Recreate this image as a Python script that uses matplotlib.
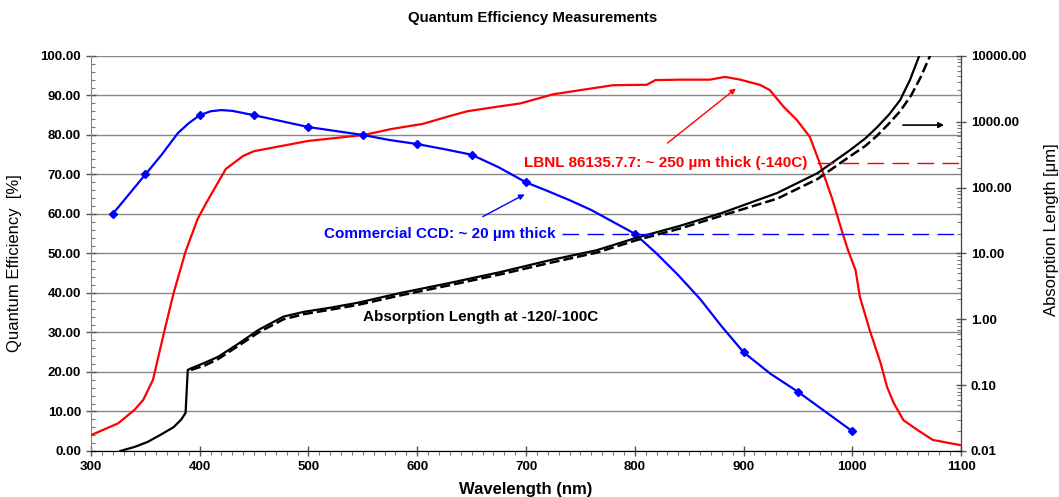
import matplotlib
matplotlib.use("Agg")
import matplotlib.pyplot as plt
from matplotlib.ticker import MultipleLocator, FormatStrFormatter, LogLocator, NullFormatter

plt.rcParams['font.family'] = ['Liberation Sans', 'DejaVu Sans']

# Commercial CCD (blue) - smooth curve and measured points
ccd_nm = [320, 335, 350, 365, 380, 390, 400, 410, 420, 430, 450, 475, 500, 525, 550,
          575, 600, 625, 650, 675, 700, 720, 740, 760, 780, 800, 820, 840, 860, 880,
          900, 925, 950, 975, 1000]
ccd_qe = [60, 65, 70, 75, 80.5, 83, 85, 86, 86.3, 86.1, 85, 83.5, 82, 81, 80,
          78.7, 77.7, 76.4, 75, 71.8, 68, 65.8, 63.5, 61, 58, 55, 50, 44.5, 38.5, 31.5,
          25, 19.5, 15, 10, 5]
ccd_pts_nm = [320, 350, 400, 450, 500, 550, 600, 650, 700, 800, 900, 950, 1000]
ccd_pts_qe = [60, 70, 85, 85, 82, 80, 77.7, 75, 68, 55, 25, 15, 5]

# LBNL thick CCD (red)
lbnl_nm = [300, 325, 340, 348, 357, 367, 376, 387, 398, 406, 424, 440, 450, 475, 500,
           551, 576, 605, 630, 646, 670, 695, 725, 756, 780, 811, 819, 842, 869, 883,
           897, 915, 924, 937, 949, 961, 970, 981, 991, 996, 1003, 1007, 1016, 1026,
           1032, 1038, 1047, 1060, 1074, 1099]
lbnl_qe = [4.0, 7, 10.4, 12.9, 18, 29.8, 40, 50.5, 58.7, 62.8, 71.4, 74.7, 75.9, 77.2, 78.5,
           80, 81.5, 82.8, 84.8, 86, 87, 88, 90.3, 91.6, 92.6, 92.7, 93.9, 94.0, 94.0, 94.7,
           94.0, 92.7, 91.4, 87.1, 83.8, 79.5, 72.9, 64.3, 55.2, 50.9, 45.8, 39, 30.6, 22.3,
           16.2, 12.2, 7.8, 5.3, 2.8, 1.5]

# Absorption length in silicon (um), -120C solid / -100C dashed
abs_nm = [327, 340, 352, 365, 376, 383, 387, 389, 392, 405, 417, 435, 454, 477, 496,
          520, 545, 584, 630, 676, 722, 765, 802, 842, 881, 931, 968, 998, 1012, 1023,
          1034, 1044, 1053, 1062]
abs_um = [0.01, 0.0115, 0.0137, 0.018, 0.023, 0.03, 0.038, 0.17, 0.18, 0.22, 0.27, 0.42,
          0.69, 1.1, 1.3, 1.5, 1.78, 2.5, 3.57, 5.2, 7.9, 11.2, 17.4, 26.4, 41.7, 83, 166,
          372, 560, 832, 1300, 2140, 4300, 10500]
abs2_nm = [392, 405, 417, 435, 454, 477, 496, 520, 545, 584, 630, 676, 722, 765, 802,
           842, 881, 931, 968, 998, 1012, 1023, 1034, 1044, 1054, 1063, 1072]
abs2_um = [0.17, 0.2, 0.25, 0.39, 0.63, 1.0, 1.2, 1.4, 1.65, 2.3, 3.3, 4.8, 7.2, 10.3, 16,
           24, 38, 68, 135, 300, 430, 620, 950, 1450, 2500, 4800, 10500]

ccd_thick = 20
lbnl_thick = 240

fig = plt.figure(figsize=(10.59, 4.97), dpi=100)
ax = fig.add_axes([0.0859, 0.0926, 0.8216, 0.7948])
ax2 = ax.twinx()

ax.plot(lbnl_nm, lbnl_qe, color='#ff0000', lw=1.6, zorder=3)
ax.plot(ccd_nm, ccd_qe, color='#0000ff', lw=1.6, zorder=3)
ax.plot(ccd_pts_nm, ccd_pts_qe, ls='none', marker='D', ms=4, color='#0000ff', zorder=4)

ax2.plot(abs_nm, abs_um, color='black', lw=1.6)
ax2.plot(abs2_nm, abs2_um, color='black', lw=1.8, dashes=(4, 1.6))
ax2.plot([733, 1100], [ccd_thick, ccd_thick], color='#0000ff', lw=1, dashes=(12, 6))
ax2.plot([968, 1100], [lbnl_thick, lbnl_thick], color='#ff0000', lw=1, dashes=(12, 6))

ax.set_xlim(300, 1100)
ax.set_ylim(0, 100)
ax2.set_yscale('log')
ax2.set_ylim(0.01, 10000)

ax.xaxis.set_major_locator(MultipleLocator(100))
ax.xaxis.set_minor_locator(MultipleLocator(10))
ax.yaxis.set_major_locator(MultipleLocator(10))
ax.yaxis.set_minor_locator(MultipleLocator(2))
ax.yaxis.set_major_formatter(FormatStrFormatter('%.2f'))
ax2.yaxis.set_major_locator(LogLocator(base=10, numticks=10))
ax2.yaxis.set_minor_locator(LogLocator(base=10, subs=range(2, 10), numticks=100))
ax2.yaxis.set_major_formatter(FormatStrFormatter('%.2f'))
ax2.yaxis.set_minor_formatter(NullFormatter())

ax.grid(axis='y', color='#888888', lw=1)
ax.set_axisbelow(True)

for a in (ax, ax2):
    a.spines['top'].set_visible(False)
    a.tick_params(which='major', direction='inout', length=7, width=1, color='#555555',
                  labelsize=9.5)
    a.tick_params(which='minor', direction='in', length=3, width=0.8, color='#777777')
    for lab in a.get_xticklabels() + a.get_yticklabels():
        lab.set_fontweight('bold')
ax.tick_params(axis='x', which='minor', direction='out', length=3)
ax.spines['left'].set_color('#888888')
ax.spines['bottom'].set_color('#555555')
ax2.spines['right'].set_color('#444444')
ax2.spines['left'].set_visible(False)
ax2.xaxis.set_visible(False)

ax.set_xlabel('Wavelength (nm)', fontsize=12, fontweight='bold')
ax.xaxis.set_label_coords(0.5, -0.078)
ax.set_ylabel('Quantum Efficiency  [%]', fontsize=12)
ax.yaxis.set_label_coords(-0.079, 0.476)
ax2.set_ylabel('Absorption Length [\u03bcm]', fontsize=12)
ax2.yaxis.set_label_coords(1.095, 0.56)

fig.text(0.503, 1 - 18 / 497, 'Quantum Efficiency Measurements', ha='center', va='center',
         fontsize=10.8, fontweight='bold')

ax2.text(514, ccd_thick, 'Commercial CCD: ~ 20 \u00b5m thick', color='#0000ff',
         fontsize=11, fontweight='bold', ha='left', va='center')
ax2.text(698, lbnl_thick, 'LBNL 86135.7.7: ~ 250 \u00b5m thick (-140C)', color='#ff0000',
         fontsize=11, fontweight='bold', ha='left', va='center')
ax.text(658, 33.9, 'Absorption Length at -120/-100C', color='black',
        fontsize=11, fontweight='bold', ha='center', va='center')

ax.annotate('', xy=(701, 65.3), xytext=(658, 59),
            arrowprops=dict(arrowstyle='-|>', color='#0000ff', lw=1, mutation_scale=8))
ax.annotate('', xy=(895, 92.2), xytext=(828, 77.5),
            arrowprops=dict(arrowstyle='-|>', color='#ff0000', lw=1, mutation_scale=8))
ax.annotate('', xy=(1087, 82.5), xytext=(1044, 82.5),
            arrowprops=dict(arrowstyle='-|>', color='black', lw=1.2, mutation_scale=8))

fig.savefig('out.png', dpi=100)
